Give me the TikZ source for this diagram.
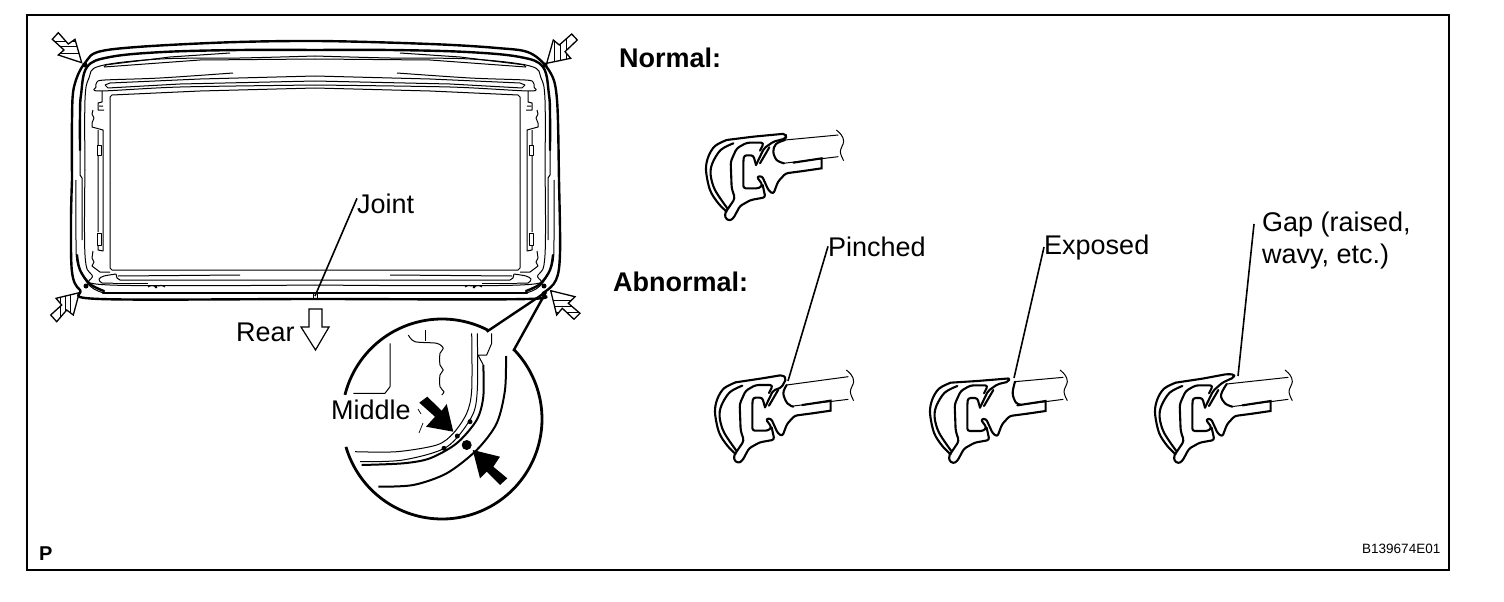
\documentclass[tikz,border=0pt]{standalone}
\usepackage{fontspec}
\setmainfont{Liberation Sans}
\tikzset{
  hvy/.style={line width=2.4pt,line join=round,line cap=round},
  med/.style={line width=2.1pt,line join=round,line cap=round},
  fin/.style={line width=1pt,line join=round},
  lab/.style={inner sep=0pt,anchor=base west,font=\fontsize{27}{27}\selectfont},
  labb/.style={inner sep=0pt,anchor=base west,font=\fontsize{27}{27}\selectfont\bfseries},
  lead/.style={line width=1.6pt},
  stripe/.style={line width=.9pt},
}
\newcommand\roofhalf{%
  \draw[hvy] plot[smooth,tension=.6] coordinates {(80,150) (80,115) (81,95) (87,67) (110,57) (163,52) (240,50) (315,50)};
  \draw[fin] plot[smooth,tension=.6] coordinates {(76,180) (76,240) (78,265) (90,286) (104,293)};
  \draw[hvy] plot[smooth,tension=.6] coordinates {(77,255) (80,270) (90,284) (104,291)};
  \draw[fin] (80,150) -- (80,175) -- (82,178) -- (82,240);
  \draw[fin] plot[smooth,tension=.6] coordinates {(85,170) (85,100) (89,78) (100,66) (160,59) (240,58) (315,56)};
  \draw[fin] plot[smooth,tension=.6] coordinates {(85,170) (85,255) (92,275) (110,285) (315,285)};
  \draw[fin] (105,65) -- (170,57) -- (230,53);
  \draw[fin] (104,67) -- (200,60) -- (315,59);
  \draw[fin] (107,64) -- (104,67);
  \draw[fin] plot[smooth,tension=.5] coordinates {(233,73) (160,78) (105,80) (97,82) (96,87) (100,91) (180,87) (315,85)};
  \draw[fin] (105,85) -- (110,83) -- (200,79) -- (315,76);
  \draw[fin] (105,85) -- (108,88) -- (180,84) -- (315,81);
  \draw[fin] (110,183) -- (110,97) -- (112,95) -- (200,91) -- (315,88);
  \draw[fin] (110,183) -- (110,268) -- (112,270) -- (315,270);
  \draw[fin] (102,91) -- (102,102) -- (98,103) -- (98,110) -- (104,110) (99,106)--(103,106)
             (93,110) -- (92,114) -- (94,118) -- (92,123) -- (92,127) -- (103,130) -- (103,240)
             (98,130) -- (98,145) (98,155) -- (98,232);
  \draw[fin] (97,145) rectangle (101,155);
  \draw[fin] (97,233) rectangle (101,245);
  \draw[fin] (98,245) -- (98,250) -- (103,251) -- (103,240)
             (93,251) -- (92,258) -- (94,262) -- (92,266) -- (100,272) -- (110,272);
  \draw[fin] plot[smooth,tension=.5] coordinates {(116,274) (104,276) (99,279) (102,283) (113,283)};
  \draw[fin] (116,274) -- (117,278) -- (120,280) -- (315,280);
  \draw[fin] (118,276) -- (240,275);
  \draw[fin] (113,283) -- (148,283);
  \draw[fin] (148,287) .. controls (151,285) and (153,285) .. (156,287) (156,287) circle (1pt) (158,286) .. controls (160,285) and (162,285) .. (165,287);
  \fill (85,65) circle (2.5pt);
  \fill (86,286) circle (2.5pt);
}
\newcommand\sealcommon{%
  \draw[med] plot[smooth,tension=.55] coordinates {(110,60) (75,78) (55,110) (48,150) (60,210) (85,250) (110,275)};
  \draw[med] plot[smooth,tension=.55] coordinates {(130,70) (92,90) (67,130) (62,165) (75,210) (112,265)};
  \draw[med,rounded corners=3pt] (108,275) -- (135,235) -- (125,205) -- (122,125) -- (140,85) -- (170,68) -- (222,68) -- (210,92);
  \draw[med,rounded corners=2.5pt] (108,272) -- (104,292) -- (118,303) -- (130,295) -- (150,258) -- (182,240) -- (226,232) -- (218,195);
  \draw[med,rounded corners=2.5pt] (198,135) -- (190,106) -- (162,106) -- (160,125) -- (160,205) -- (207,205) -- (218,195) -- (200,170) -- (216,168) -- (236,212) -- (250,222) -- (264,185) -- (287,160) -- (340,153);
  \draw[med,line join=miter] (340,153) -- (395,145) -- (395,115) -- (310,128);
  \draw[med] (210,130) -- (238,82);
}
\newcommand\glassend[1]{%
  \draw[fin] plot[smooth,tension=.6] coordinates {(#1-8,30) (#1+7,45) (#1+14,65) (#1+4,95) (#1+14,122)};
}
\newcommand\garrow[2]{%
  \begin{scope}
    \clip #1 -- cycle;
    \foreach \li in {#2} {\draw[stripe] \li;}
  \end{scope}
  \draw[line width=1.3pt,line join=miter] #1 -- cycle;
}
\begin{document}
\begin{tikzpicture}[x=1pt,y=-1pt]
\useasboundingbox (0,0) rectangle (1504,602);
\fill[white] (0,0) rectangle (1504,602);
\draw[line width=2pt] (27,15) rectangle (1449,570);

\draw[hvy] plot[smooth,tension=.55] coordinates {(72,180) (72,120) (74,87) (85,63) (107,50) (210,43) (315,41) (430,44) (497,48) (530,53) (550,72) (557,100) (559,180) (560,253) (556,280) (543,293) (527,299) (315,299) (100,299) (80,290) (72,272) (71,220) (72,180)};
\draw[hvy] (103,293) -- (527,293);
\roofhalf
\begin{scope}[xshift=630pt,xscale=-1]
\roofhalf
\end{scope}
\draw[fin] (313,293) -- (313,299) (317,293) -- (317,299);

\garrow{(81.7,62.7) -- (58.3,55) -- (64,50) -- (52.3,39.3) -- (58.3,32.7) -- (68.3,44) -- (75,39.3)}
  {{(40,41)--(90,41)},{(40,46)--(90,46)},{(40,53)--(90,53)}}
\garrow{(546.7,63.3) -- (553.3,40) -- (559.3,45) -- (571.7,34) -- (577.3,40) -- (565,51.7) -- (570.7,58.3)}
  {{(554,30)--(554,70)},{(560,30)--(560,70)},{(566,30)--(566,70)}}
\garrow{(79.3,292.7) -- (73.3,315) -- (66.7,310) -- (56.7,321.7) -- (50.7,315) -- (61.7,305) -- (56,298.3)}
  {{(60,285)--(60,330)},{(65,285)--(65,330)},{(70,285)--(70,330)}}
\garrow{(550.7,290.7) -- (575,296.7) -- (568.3,303.3) -- (580,313.3) -- (574,319.3) -- (562.3,308.3) -- (556.7,315)}
  {{(545,300)--(585,300)},{(545,306)--(585,306)},{(545,312)--(585,312)}}

\node[lab] (joint) at (357,213) {Joint};
\coordinate (jointend) at (315,296);
\draw[lead] ([yshift=5pt]joint.west) -- (jointend);
\node[lab] (rear) at (236,341) {Rear};
\draw[line width=1.2pt,line join=miter] (309,309) -- (322,309) -- (322,327) -- (329,327) -- (315.5,350) -- (301,327) -- (309,327) -- cycle;

\coordinate (apex) at (546,292);
\draw[line width=2.8pt] plot[domain=43.7:-163.8,samples=90] ({442+100*cos(\x)},{419-100*sin(\x)});
\draw[line width=2.4pt] (513.3,351) -- (apex);
\draw[line width=2.8pt] plot[domain=62.8:166,samples=60] ({442+100*cos(\x)},{419-100*sin(\x)});
\draw[line width=2.4pt] (486.7,331.7) -- (apex);

\draw[fin] plot[smooth,tension=.5] coordinates {(408.3,335) (415,341.7) (436.7,343.3) (443.3,348.3) (440,353.3) (440,365) (443.3,370) (440,375) (440,386.7) (444,391.7) (441.7,395)};
\draw[fin] (425,330) -- (425,341);
\draw[fin] (390,343.3) -- (390,386.7) -- (385,393.3) -- (353.3,393.3);
\draw[fin] plot[smooth,tension=.5] coordinates {(471.7,333.3) (471.7,390) (466.7,413.3) (453.3,433.3) (436.7,445) (396.7,451.7) (355,451.7)};
\draw[fin] plot[smooth,tension=.5] coordinates {(477.3,333.3) (477.3,390) (471.7,416.7) (446.7,447) (403,460) (360,461.7)};
\draw[line width=2pt] plot[smooth,tension=.5] coordinates {(483.3,365) (483.3,396.7) (476.7,420) (456.7,443.3) (430,458.3) (403.3,463.3) (361.7,465)};
\draw[fin] (491.7,333.3) -- (491.7,343.3) -- (486.7,355) -- (478,355) (478,355) -- (483.3,365);
\draw[line width=2pt] plot[smooth,tension=.5] coordinates {(506,356) (505,390) (496.7,423.3) (476.7,450) (446.7,473.3) (413.3,485) (378.3,486.7)};
\fill (466.7,445) circle (5pt);
\fill (470,421.7) circle (2.5pt) (457.3,436) circle (2.5pt) (444,448.3) circle (2.5pt);
\fill (453.3,431.7) -- (426,426.7) -- (435,416.7) -- (419.3,402.7) -- (427.3,396.7) -- (441.7,410.7) -- (446.7,404) -- cycle;
\fill (472.7,450) -- (500,456.7) -- (493.3,466.7) -- (507.3,478.3) -- (500,485) -- (486.7,471.7) -- (480,478.3) -- cycle;
\draw[line width=.7pt] (418,409) -- (421,414) (419,433) -- (423,423);
\node[lab] (middle) at (331,419) {Middle};

\node[labb] (normal) at (619,67) {Normal:};
\node[labb] (abnormal) at (613,291) {Abnormal:};

\begin{scope}[shift={(690,120)},x=1/3*1pt,y=-1/3*1pt]
  \sealcommon
  \draw[med,rounded corners=2pt] (110,60) -- (190,50) -- (285,41) -- (290,50) -- (285,56) -- (250,65) -- (222,85) -- (198,135);
  \draw[fin] (285,60) -- (445,45) (280,130) -- (445,110);
  \draw[med] plot[smooth,tension=.6] coordinates {(285,60) (258,72) (250,95) (260,120) (282,130)};
  \glassend{447}
\end{scope}

\begin{scope}[shift={(700,360)},x=1/3*1pt,y=-1/3*1pt]
  \begin{scope}[shift={(-3,7)}]
    \sealcommon
    \draw[med,rounded corners=2pt] (110,60) -- (190,48) -- (250,38) -- (262,48) -- (248,75) -- (222,85) -- (198,135);
  \end{scope}
  \draw[fin] (260,75) -- (445,50) (280,138) -- (445,118);
  \draw[med] plot[smooth,tension=.6] coordinates {(260,75) (250,100) (262,130) (280,140)};
  \glassend{447}
\end{scope}
\coordinate (pinchedend) at (788,381);
\node[lab] (pinched) at (828,256) {Pinched};
\draw[lead] (pinched.west) -- (pinchedend);

\begin{scope}[shift={(920,360)},x=1/3*1pt,y=-1/3*1pt]
  \begin{scope}[shift={(-18,8)}]
    \sealcommon
    \draw[med,rounded corners=2pt] (110,60) -- (190,55) -- (288,47) -- (283,57) -- (250,65) -- (222,85) -- (198,135);
  \end{scope}
  \draw[fin] (285,65) -- (430,52) (300,135) -- (430,118);
  \draw[med] plot[smooth,tension=.6] coordinates {(285,65) (278,100) (288,128) (302,134)};
  \glassend{428}
\end{scope}
\coordinate (exposedend) at (1014,378);
\node[lab] (exposed) at (1044,254) {Exposed};
\draw[lead] (exposed.west) -- (exposedend);

\begin{scope}[shift={(1145,360)},x=1/3*1pt,y=-1/3*1pt]
  \begin{scope}[shift={(-18,8)}]
    \sealcommon
    \draw[med,rounded corners=2pt] (110,60) -- (190,48) -- (265,34) -- (286,36) -- (285,44) -- (250,60) -- (222,85) -- (198,135);
  \end{scope}
  \draw[fin] (245,72) -- (430,52) (260,140) -- (430,118);
  \draw[med] plot[smooth,tension=.6] coordinates {(245,72) (228,105) (240,130) (262,140)};
  \glassend{428}
\end{scope}
\coordinate (gapend) at (1238,376);
\node[lab] (gapa) at (1262,231) {Gap (raised,};
\node[lab] (gapb) at (1262,263) {wavy, etc.)};
\draw[lead] ([xshift=-8pt]gapa.west) -- (gapend);

\node[inner sep=0pt,anchor=base west,font=\fontsize{20}{20}\selectfont\bfseries] (pp) at (39,560) {P};
\node[inner sep=0pt,anchor=base west,font=\fontsize{13.5}{13.5}\selectfont] (code) at (1362,553) {B139674E01};
\end{tikzpicture}
\end{document}
